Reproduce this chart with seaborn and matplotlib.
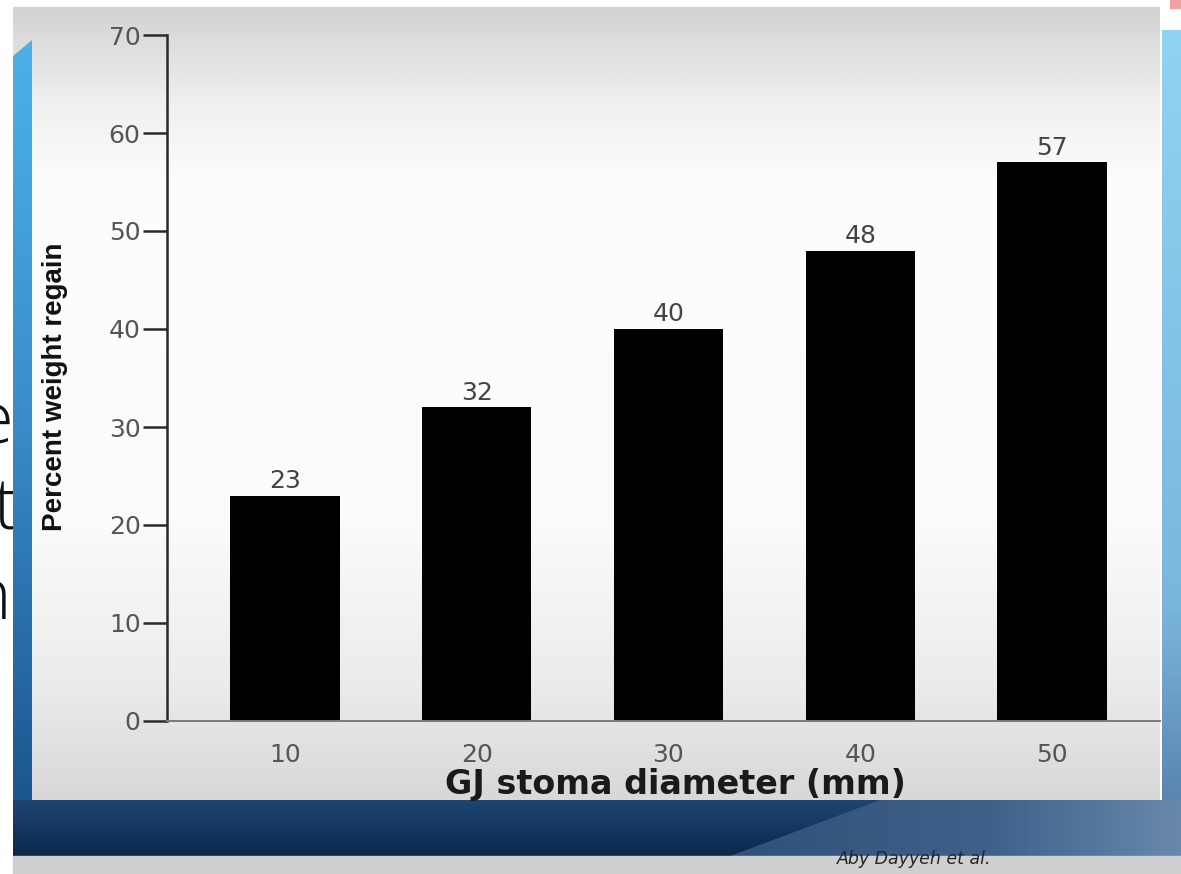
import numpy as np
import matplotlib
matplotlib.use("Agg")
import matplotlib.pyplot as plt
import seaborn as sns
from matplotlib.colors import LinearSegmentedColormap
from matplotlib.patches import Polygon, Rectangle

# ---- data ----
diameters = ["10", "20", "30", "40", "50"]
regain = [23, 32, 40, 48, 57]
y_ticks = [0, 10, 20, 30, 40, 50, 60, 70]
x_title = "GJ stoma diameter (mm)"
y_title = "Percent weight regain"
citation = "Aby Dayyeh et al."
side_text = ["e", "st", "nc"]

sns.set_theme(style="white")
plt.rcParams["font.family"] = ["DejaVu Sans"]

W, H = 1181, 874
fig = plt.figure(figsize=(W / 100, H / 100), dpi=100)
fig.patch.set_facecolor("white")

# ---- slide backdrop (pixel coordinates, y downward) ----
bg = fig.add_axes([0, 0, 1, 1], zorder=0)
bg.axis("off")


def grad(ax, x0, x1, y0, y1, stops, z, vertical=True, clip=None):
    cmap = LinearSegmentedColormap.from_list("g", stops)
    g = np.linspace(0, 1, 256)
    arr = g.reshape(-1, 1) if vertical else g.reshape(1, -1)
    im = ax.imshow(arr, cmap=cmap, extent=(x0, x1, y1, y0), aspect="auto",
                   zorder=z, interpolation="bilinear", vmin=0, vmax=1)
    if clip is not None:
        ax.add_patch(clip)
        clip.set_visible(False)
        im.set_clip_path(clip)
    return im


# slide text peeking out at the left edge, partly hidden by the panel
for txt, yb, x, ha in zip(side_text, [443, 530, 620], [14, 18, -31],
                          ["right", "right", "left"]):
    bg.text(x, yb, txt, ha=ha, va="baseline", fontsize=52,
            family=["Open Sans", "DejaVu Sans"], fontweight="light",
            color="#111111", zorder=1)

# chart panel
grad(bg, 13, 1160, 7, 800,
     [(0.0, "#d3d3d3"), (0.12, "#f0f0f0"), (0.22, "#fdfdfd"), (0.65, "#fbfbfb"),
      (0.85, "#ececec"), (1.0, "#d8d8d8")], z=2)

# left blue strip
grad(bg, 13, 32, 40, 800, [(0.0, "#4cb2e8"), (0.5, "#3a8cc8"), (1.0, "#1c5690")],
     z=3, clip=Polygon([(13, 56), (32, 40), (32, 800), (13, 800)], closed=True,
                       transform=bg.transData))

# right blue strip
grad(bg, 1162, 1181, 30, 800, [(0.0, "#8fd3f3"), (0.75, "#7ab6de"), (1.0, "#5a86b0")],
     z=3)

# bottom navy band
grad(bg, 13, 1181, 800, 856, [(0.0, "#1d4674"), (1.0, "#0b2849")], z=3)
grad(bg, 700, 1181, 800, 856, [(0.0, "#2f4f76"), (0.6, "#3f6089"), (1.0, "#6889ac")],
     z=4, vertical=False,
     clip=Polygon([(880, 800), (1181, 800), (1181, 856), (730, 856)],
                  closed=True, transform=bg.transData))

# bottom grey strip and corner mark
bg.add_patch(Rectangle((13, 856), W - 13, H - 856, color="#cfcfcf", zorder=4))
bg.add_patch(Rectangle((1170, 0), 11, 8, color="#f0a3a0", zorder=4))

bg.text(914, 859, citation, ha="center", va="center", fontsize=12.5,
        style="italic", color="#262626", zorder=6)

bg.set_xlim(0, W)
bg.set_ylim(H, 0)

# ---- bar chart ----
ax = fig.add_axes([167 / W, (H - 721) / H, (1160 - 167) / W, (721 - 35) / H], zorder=5)
ax.patch.set_alpha(0)

sns.barplot(x=diameters, y=regain, color="black", saturation=1, width=0.57,
            linewidth=0, ax=ax)

ax.set_xlim(-0.615, 4.563)
ax.set_ylim(0, 70)
ax.set_yticks(y_ticks)
ax.set_yticklabels([str(t) for t in y_ticks])

for s in ["top", "right"]:
    ax.spines[s].set_visible(False)
ax.spines["left"].set_color("#2a2a2a")
ax.spines["left"].set_linewidth(1.8)
ax.spines["bottom"].set_color("#7a7a7a")
ax.spines["bottom"].set_linewidth(1.4)

ax.tick_params(axis="y", direction="out", length=17, width=1.8, color="#2a2a2a",
               pad=2, labelsize=18, labelcolor="#555555", left=True)
ax.tick_params(axis="x", length=0, pad=16, labelsize=18, labelcolor="#555555")

ax.bar_label(ax.containers[0], labels=[str(v) for v in regain], padding=2,
             fontsize=18, color="#444444")

ax.set_xlabel(x_title, fontsize=24, fontweight="bold", color="#1a1a1a")
ax.xaxis.set_label_coords((675 - 167) / 993, (721 - 768) / 686)
ax.set_ylabel(y_title, fontsize=20, fontweight="bold", color="#111111",
              family=["Liberation Sans", "DejaVu Sans"], va="center")
ax.yaxis.set_label_coords((55 - 167) / 993, (721 - 387) / 686)

fig.savefig("out.png", dpi=100)
